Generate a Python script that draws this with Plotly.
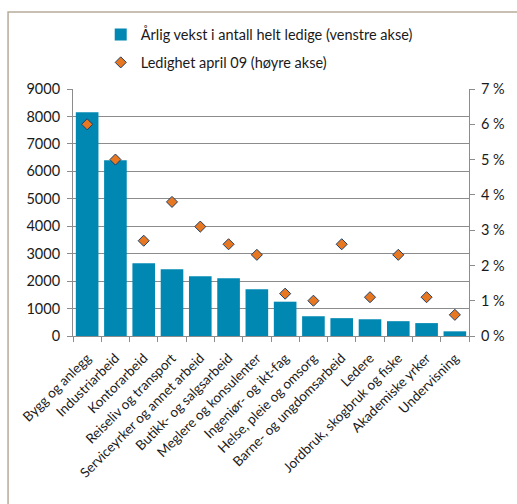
import plotly.graph_objects as go

categories = [
    "Bygg og anlegg", "Industriarbeid", "Kontorarbeid", "Reiseliv og transport",
    "Serviceyrker og annet arbeid", "Butikk- og salgsarbeid", "Meglere og konsulenter",
    "Ingeniør- og ikt-fag", "Helse, pleie og omsorg", "Barne- og ungdomsarbeid",
    "Ledere", "Jordbruk, skogbruk og fiske", "Akademiske yrker", "Undervisning",
]
vekst_ledige = [8150, 6400, 2650, 2430, 2180, 2100, 1700, 1250, 720, 650, 610, 540, 470, 170]
ledighet_april09 = [6.0, 5.0, 2.7, 3.8, 3.1, 2.6, 2.3, 1.2, 1.0, 2.6, 1.1, 2.3, 1.1, 0.6]

left_ticks = list(range(0, 9001, 1000))
right_ticks = list(range(0, 8))
right_labels = [f"{v} %" for v in right_ticks]

FONT = "Lato"
TXT = "#1a1a1a"
AX = "#8c8c8c"

fig = go.Figure()
fig.add_trace(go.Bar(
    x=categories, y=vekst_ledige,
    name="Årlig vekst i antall helt ledige (venstre akse)",
    marker=dict(color="#0088b3", line=dict(width=0)),
    legendgroup="a",
))
fig.add_trace(go.Scatter(
    x=categories, y=ledighet_april09, yaxis="y2", mode="markers",
    name="Ledighet april 09 (høyre akse)",
    marker=dict(symbol="diamond", size=8.5, color="#e87722",
                line=dict(color="#1f3f66", width=1)),
    legendgroup="b",
))

fig.update_layout(
    width=517, height=504,
    margin=dict(l=73, r=48, t=89, b=168),
    paper_bgcolor="white", plot_bgcolor="white",
    font=dict(family=FONT, size=14.5, color=TXT),
    bargap=0.2,
    showlegend=True,
    legend=dict(x=0.07, xanchor="left", y=1.285, yanchor="top",
                bgcolor="rgba(0,0,0,0)", tracegroupgap=6,
                font=dict(family=FONT, size=14.5, color=TXT),
                itemwidth=30),
    xaxis=dict(
        range=[-0.5, len(categories) - 0.5],
        tickangle=-45, showline=True, linecolor=AX, linewidth=1,
        ticks="outside", tickson="boundaries", ticklen=5, tickcolor=AX,
        showgrid=False, tickfont=dict(size=13.5, color=TXT), automargin=False,
        ticklabelstandoff=8,
    ),
    yaxis=dict(
        range=[0, 9000], tickvals=left_ticks, showline=True, linecolor=AX,
        linewidth=1, ticks="outside", ticklen=5, tickcolor=AX,
        showgrid=True, gridcolor=AX, gridwidth=1, zeroline=False,
        tickfont=dict(size=14.5, color=TXT), automargin=False,
        ticklabelstandoff=4,
    ),
    yaxis2=dict(
        range=[0, 7], tickvals=right_ticks, ticktext=right_labels,
        overlaying="y", side="right", showline=True, linecolor=AX,
        linewidth=1, ticks="outside", ticklen=5, tickcolor=AX,
        showgrid=False, zeroline=False, tickfont=dict(size=14.5, color=TXT),
        automargin=False, ticklabelstandoff=3,
    ),
    shapes=[dict(
        type="rect", xref="paper", yref="paper",
        x0=-0.164, x1=1.2, y0=-0.8, y1=1.312,
        line=dict(color="#b8ab99", width=1.5), fillcolor="rgba(0,0,0,0)",
        layer="below",
    )],
)

fig.write_html("out.html")
